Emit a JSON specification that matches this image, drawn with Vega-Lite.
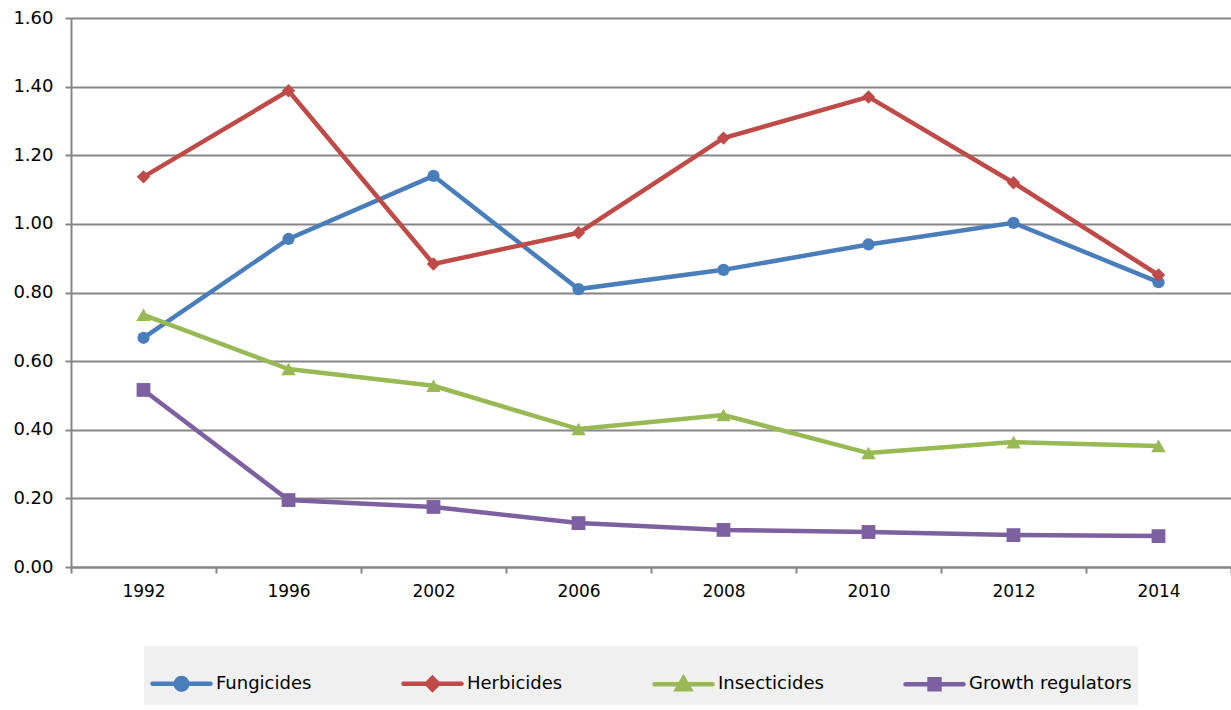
{
  "$schema": "https://vega.github.io/schema/vega-lite/v6.json",
  "width": 1160,
  "height": 549,
  "autosize": {"type": "none"},
  "padding": {"left": 71, "top": 18, "right": 0, "bottom": 143},
  "background": "white",
  "config": {"font": "DejaVu Sans", "view": {"stroke": null}},
  "data": {"values": [
    {"year": "1992", "series": "Fungicides", "value": 0.668},
    {"year": "1996", "series": "Fungicides", "value": 0.956},
    {"year": "2002", "series": "Fungicides", "value": 1.140},
    {"year": "2006", "series": "Fungicides", "value": 0.810},
    {"year": "2008", "series": "Fungicides", "value": 0.866},
    {"year": "2010", "series": "Fungicides", "value": 0.940},
    {"year": "2012", "series": "Fungicides", "value": 1.003},
    {"year": "2014", "series": "Fungicides", "value": 0.830},
    {"year": "1992", "series": "Herbicides", "value": 1.137},
    {"year": "1996", "series": "Herbicides", "value": 1.388},
    {"year": "2002", "series": "Herbicides", "value": 0.883},
    {"year": "2006", "series": "Herbicides", "value": 0.974},
    {"year": "2008", "series": "Herbicides", "value": 1.250},
    {"year": "2010", "series": "Herbicides", "value": 1.370},
    {"year": "2012", "series": "Herbicides", "value": 1.120},
    {"year": "2014", "series": "Herbicides", "value": 0.851},
    {"year": "1992", "series": "Insecticides", "value": 0.735},
    {"year": "1996", "series": "Insecticides", "value": 0.577},
    {"year": "2002", "series": "Insecticides", "value": 0.528},
    {"year": "2006", "series": "Insecticides", "value": 0.402},
    {"year": "2008", "series": "Insecticides", "value": 0.443},
    {"year": "2010", "series": "Insecticides", "value": 0.332},
    {"year": "2012", "series": "Insecticides", "value": 0.364},
    {"year": "2014", "series": "Insecticides", "value": 0.353},
    {"year": "1992", "series": "Growth regulators", "value": 0.516},
    {"year": "1996", "series": "Growth regulators", "value": 0.195},
    {"year": "2002", "series": "Growth regulators", "value": 0.175},
    {"year": "2006", "series": "Growth regulators", "value": 0.128},
    {"year": "2008", "series": "Growth regulators", "value": 0.108},
    {"year": "2010", "series": "Growth regulators", "value": 0.102},
    {"year": "2012", "series": "Growth regulators", "value": 0.093},
    {"year": "2014", "series": "Growth regulators", "value": 0.090}
  ]},
  "encoding": {
    "x": {
      "field": "year", "type": "ordinal",
      "scale": {"type": "band", "paddingInner": 0, "paddingOuter": 0},
      "axis": {
        "title": null, "labelAngle": 0, "tickBand": "extent",
        "labelFontSize": 17, "labelColor": "#000", "labelPadding": 10,
        "domainColor": "#868686", "domainWidth": 2,
        "tickColor": "#868686", "tickWidth": 2, "tickSize": 6, "grid": false
      }
    },
    "y": {
      "field": "value", "type": "quantitative",
      "scale": {"domain": [0, 1.6], "nice": false},
      "axis": {
        "title": null, "values": [0, 0.2, 0.4, 0.6, 0.8, 1.0, 1.2, 1.4, 1.6],
        "format": ".2f", "labelFontSize": 18, "labelColor": "#000", "labelPadding": 12,
        "grid": true, "gridColor": "#868686", "gridWidth": 2,
        "domainColor": "#868686", "domainWidth": 2,
        "tickColor": "#868686", "tickWidth": 2, "tickSize": 6
      }
    },
    "color": {
      "field": "series", "type": "nominal",
      "scale": {
        "domain": ["Fungicides", "Herbicides", "Insecticides", "Growth regulators"],
        "range": ["#4a7ebb", "#be4b48", "#98b954", "#7d60a0"]
      },
      "legend": {
        "title": null, "orient": "none", "legendX": 73, "legendY": 628,
        "direction": "horizontal", "columns": 4, "gridAlign": "all",
        "columnPadding": 15, "padding": 6, "fillColor": "#f0f0f0",
        "labelFontSize": 18, "labelColor": "#000", "labelOffset": 3,
        "symbolSize": 3364, "symbolStrokeWidth": 4.5, "labelLimit": 300,
        "encode": {
          "symbols": {
            "update": {
              "shape": {"signal": "datum.value === 'Fungicides' ? 'M-1,0L1,0M-0.2,0A0.2,0.2 0 1,0 0.2,0A0.2,0.2 0 1,0 -0.2,0Z' : datum.value === 'Herbicides' ? 'M-1,0L1,0M0,-0.2L0.2,0L0,0.2L-0.2,0Z' : datum.value === 'Insecticides' ? 'M-1,0L1,0M0,-0.2L0.22,0.18L-0.22,0.18Z' : 'M-1,0L1,0M-0.17,-0.17L0.17,-0.17L0.17,0.17L-0.17,0.17Z'"},
              "size": {"value": 3364},
              "fill": {"scale": "color", "field": "value"},
              "stroke": {"scale": "color", "field": "value"},
              "strokeCap": {"value": "round"},
              "strokeWidth": {"value": 4.5},
              "opacity": {"value": 1}
            }
          }
        }
      }
    }
  },
  "layer": [
    {"mark": {"type": "line", "strokeWidth": 4.5}},
    {
      "transform": [{"filter": "datum.series === 'Fungicides'"}],
      "mark": {"type": "point", "shape": "circle", "size": 150, "filled": true, "opacity": 1}
    },
    {
      "transform": [{"filter": "datum.series === 'Herbicides'"}],
      "mark": {"type": "point", "shape": "diamond", "size": 180, "filled": true, "opacity": 1}
    },
    {
      "transform": [{"filter": "datum.series === 'Insecticides'"}],
      "mark": {"type": "point", "shape": "triangle-up", "size": 210, "filled": true, "opacity": 1}
    },
    {
      "transform": [{"filter": "datum.series === 'Growth regulators'"}],
      "mark": {"type": "point", "shape": "square", "size": 190, "filled": true, "opacity": 1}
    }
  ]
}
